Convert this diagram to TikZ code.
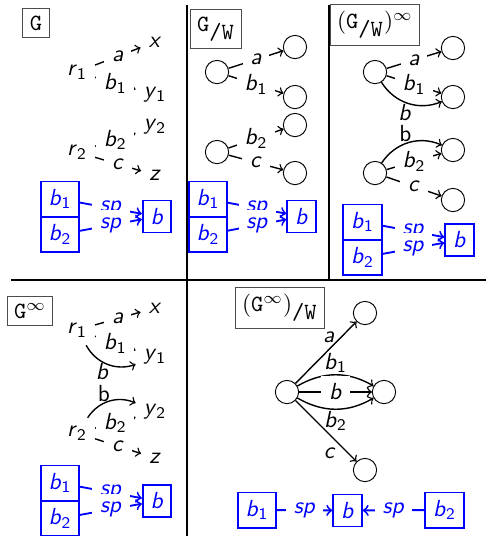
\documentclass[tikz,border=0pt]{standalone}
\usetikzlibrary{arrows}
\newcommand{\iv}[1]{\textsf{\itshape #1}}
\newcommand{\sv}[2]{\iv{#1}$_{\mathsf{#2}}$}

\begin{document}
\begin{tikzpicture}[x=0.43pt,y=-0.43pt,
  st/.style={circle,draw,fill=white,minimum size=10pt,inner sep=0pt},
  vx/.style={fill=white},
  lb/.style={fill=white},
  cl/.style={inner sep=0.5pt},
  ttl/.style={draw=black!70,inner sep=3pt},
  bx/.style={draw=blue,text=blue,thick},
  sp/.style={fill=white,text=blue},
  ed/.style={semithick,->},
  bed/.style={draw=blue,thick,->},
  rule/.style={thick}]
\useasboundingbox (0,0) rectangle (486,536);

% frame
\draw[rule] (187,5) -- (187,536);
\draw[rule] (329,5) -- (329,280);
\draw[rule] (11,280) -- (486,280);

% G
\node[ttl] (tG) at (36,23) {\texttt{G}};
\node[vx] (r1) at (77,72) {\sv{r}{1}};
\node[vx] (x) at (155,42) {\iv{x}};
\node[vx] (y1) at (155,95) {\sv{y}{1}};
\node[vx] (y2) at (155,127) {\sv{y}{2}};
\node[vx] (r2) at (77,152) {\sv{r}{2}};
\node[vx] (z) at (155,175) {\iv{z}};
\draw[ed] (r1) -- node[lb]{\iv{a}} (x);
\draw[ed] (r1) -- node[lb]{\sv{b}{1}} (y1);
\draw[ed] (r2) -- node[lb]{\sv{b}{2}} (y2);
\draw[ed] (r2) -- node[lb]{\iv{c}} (z);
\node[bx] (Gb1) at (60,199) {\sv{b}{1}};
\node[bx] (Gb2) at (60,234.5) {\sv{b}{2}};
\node[bx] (Gb) at (157,216.5) {\iv{b}};
\draw[bed] (Gb1) -- node[sp]{\iv{sp}} (Gb);
\draw[bed] (Gb2) -- node[sp]{\iv{sp}} (Gb);

% G/W
\node[ttl] (tGW) at (216,29) {\texttt{G}$_{\texttt{/W}}$};
\node[st] (wL1) at (217,72) {};
\node[st] (wR1) at (295,47) {};
\node[st] (wR2) at (295,97) {};
\node[st] (wR3) at (295,125) {};
\node[st] (wL2) at (217,152) {};
\node[st] (wR4) at (295,173) {};
\draw[ed] (wL1) -- node[lb]{\iv{a}} (wR1);
\draw[ed] (wL1) -- node[lb]{\sv{b}{1}} (wR2);
\draw[ed] (wL2) -- node[lb]{\sv{b}{2}} (wR3);
\draw[ed] (wL2) -- node[lb]{\iv{c}} (wR4);
\node[bx] (Wb1) at (208,199) {\sv{b}{1}};
\node[bx] (Wb2) at (208,234.5) {\sv{b}{2}};
\node[bx] (Wb) at (301.5,216.5) {\iv{b}};
\draw[bed] (Wb1) -- node[sp]{\iv{sp}} (Wb);
\draw[bed] (Wb2) -- node[sp]{\iv{sp}} (Wb);

% (G/W)^inf
\node[ttl] (tGWi) at (375,25) {(\texttt{G}$_{\texttt{/W}}$)$^\infty$};
\node[st] (iL1) at (375,72) {};
\node[st] (iR1) at (453,48) {};
\node[st] (iR2) at (453,97) {};
\node[st] (iL2) at (375,173) {};
\node[st] (iR3) at (453,150) {};
\node[st] (iR4) at (453,200) {};
\draw[ed] (iL1) -- node[lb]{\iv{a}} (iR1);
\draw[ed] (iL1) -- node[lb]{\sv{b}{1}} (iR2);
\draw[ed] (iL1) to[bend right=40] node[cl,below,pos=.45]{\iv{b}} (iR2);
\draw[ed] (iL2) -- node[lb]{\sv{b}{2}} (iR3);
\draw[ed] (iL2) -- node[lb]{\iv{c}} (iR4);
\draw[ed] (iL2) to[bend left=40] node[cl,above,pos=.45]{\textsf{b}} (iR3);
\node[bx] (Ib1) at (362.5,222) {\sv{b}{1}};
\node[bx] (Ib2) at (362.5,257.5) {\sv{b}{2}};
\node[bx] (Ib) at (459.5,240) {\iv{b}};
\draw[bed] (Ib1) -- node[sp]{\iv{sp}} (Ib);
\draw[bed] (Ib2) -- node[sp]{\iv{sp}} (Ib);

% G^inf
\node[ttl] (tGi) at (30,311) {\texttt{G}$^\infty$};
\node[vx] (s1) at (77,330) {\sv{r}{1}};
\node[vx] (sx) at (155,308) {\iv{x}};
\node[vx] (sy1) at (155,357) {\sv{y}{1}};
\node[vx] (sy2) at (155,412) {\sv{y}{2}};
\node[vx] (s2) at (77,433) {\sv{r}{2}};
\node[vx] (sz) at (155,458) {\iv{z}};
\draw[ed] (s1) -- node[lb]{\iv{a}} (sx);
\draw[ed] (s1) -- node[lb]{\sv{b}{1}} (sy1);
\draw[ed] (s1) to[bend right=40] node[cl,below,pos=.4]{\iv{b}} (sy1);
\draw[ed] (s2) -- node[lb]{\sv{b}{2}} (sy2);
\draw[ed] (s2) -- node[lb]{\iv{c}} (sz);
\draw[ed] (s2) to[bend left=40] node[cl,above,pos=.4]{\textsf{b}} (sy2);
\node[bx] (Sb1) at (60,483) {\sv{b}{1}};
\node[bx] (Sb2) at (60,518.5) {\sv{b}{2}};
\node[bx] (Sb) at (157,501) {\iv{b}};
\draw[bed] (Sb1) -- node[sp]{\iv{sp}} (Sb);
\draw[bed] (Sb2) -- node[sp]{\iv{sp}} (Sb);

% (G^inf)/W
\node[ttl] (tGiW) at (280,308) {(\texttt{G}$^\infty$)$_{\texttt{/W}}$};
\node[st] (qL) at (287,392) {};
\node[st] (qa) at (365,313) {};
\node[st] (qb) at (384,392) {};
\node[st] (qc) at (365,470) {};
\draw[ed] (qL) -- node[pos=.74,left=-1pt]{\iv{a}} (qa);
\draw[ed] (qL) to[bend left=30] node[cl,above]{\sv{b}{1}} (qb);
\draw[ed] (qL) -- node[lb]{\iv{b}} (qb);
\draw[ed] (qL) to[bend right=30] node[cl,below]{\sv{b}{2}} (qb);
\draw[ed] (qL) -- node[pos=.72,below left=-2pt]{\iv{c}} (qc);
\node[bx] (Qb1) at (257,510) {\sv{b}{1}};
\node[bx] (Qb) at (347.5,510.5) {\iv{b}};
\node[bx] (Qb2) at (444.5,510) {\sv{b}{2}};
\draw[bed] (Qb1) -- node[sp]{\iv{sp}} (Qb);
\draw[bed] (Qb2) -- node[sp]{\iv{sp}} (Qb);
\end{tikzpicture}
\end{document}
